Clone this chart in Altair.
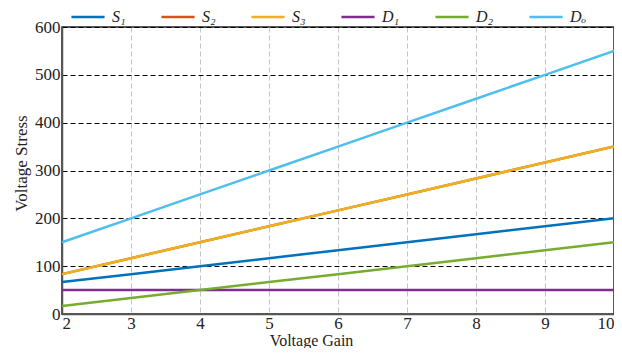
import altair as alt
import pandas as pd

gain = [2, 3, 4, 5, 6, 7, 8, 9, 10]
s1 = [66.7, 83.3, 100, 116.7, 133.3, 150, 166.7, 183.3, 200]
s2 = [83.3, 116.7, 150, 183.3, 216.7, 250, 283.3, 316.7, 350]
s3 = [83.3, 116.7, 150, 183.3, 216.7, 250, 283.3, 316.7, 350]
d1 = [50, 50, 50, 50, 50, 50, 50, 50, 50]
d2 = [16.7, 33.3, 50, 66.7, 83.3, 100, 116.7, 133.3, 150]
do = [150, 200, 250, 300, 350, 400, 450, 500, 550]

series = ["S\u2081", "S\u2082", "S\u2083", "D\u2081", "D\u2082", "D\u2092"]
colors = ["#0072BD", "#D95319", "#EDB120", "#7E2F8E", "#77AC30", "#4DBEEE"]
y_ticks = [0, 100, 200, 300, 400, 500, 600]

rows = []
for i, (name, vals) in enumerate(zip(series, [s1, s2, s3, d1, d2, do])):
    for g, v in zip(gain, vals):
        rows.append({"gain": g, "value": v, "series": name, "k": i})
df = pd.DataFrame(rows)

font = "Liberation Serif"

chart = alt.Chart(df).mark_line(strokeWidth=2.5).encode(
    x=alt.X("gain:Q",
            scale=alt.Scale(domain=[2, 10], nice=False),
            axis=alt.Axis(values=gain, title="Voltage Gain", grid=True,
                          gridColor="#c4c4c4", gridDash=[5, 3], gridWidth=1,
                          tickSize=0, labelPadding=1, labelFlush=True,
                          labelFont=font, titleFont=font,
                          labelFontSize=17, titleFontSize=16,
                          titleFontWeight="normal",
                          titleX=249, titleY=18, titleBaseline="top",
                          domainColor="#555", domainWidth=1.5)),
    y=alt.Y("value:Q",
            scale=alt.Scale(domain=[0, 600], nice=False),
            axis=alt.Axis(values=y_ticks, title="Voltage Stress", grid=True,
                          gridColor="#000", gridDash=[5, 3], gridWidth=1,
                          tickSize=0, labelPadding=2,
                          labelFont=font, titleFont=font,
                          labelFontSize=17, titleFontSize=17,
                          titleFontWeight="normal",
                          titleX=-32, titleY=136, titleBaseline="bottom",
                          domainColor="#555", domainWidth=1.5)),
    color=alt.Color("series:N",
                    scale=alt.Scale(domain=series, range=colors),
                    sort=series,
                    legend=alt.Legend(title=None, orient="none", direction="horizontal",
                                      legendX=8, legendY=-28,
                                      symbolType="stroke", symbolSize=1100,
                                      symbolStrokeWidth=2.5, labelFontSize=16,
                                      labelFont=font, labelFontStyle="italic",
                                      labelColor="#222",
                                      labelOffset=6, columnPadding=30)),
    order="k:Q",
    detail="series:N",
).properties(
    width=552, height=287,
    autosize=alt.AutoSizeParams(type="none"),
    padding={"left": 54, "top": 19, "right": 0, "bottom": 34},
).configure(
    font=font
).configure_view(
    stroke="#222", strokeWidth=1.5
).configure_axis(
    labelFont=font, titleFont=font, labelColor="#222", titleColor="#222"
)

chart.save("out.html", embed_options={"renderer": "svg", "actions": False})
